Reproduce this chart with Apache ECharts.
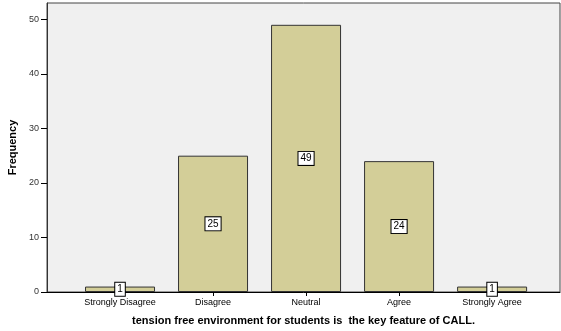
<!DOCTYPE html>
<html>
<head>
<meta charset="utf-8">
<script src="https://cdn.jsdelivr.net/npm/echarts@6/dist/echarts.min.js"></script>
<style>
html,body{margin:0;padding:0;background:#fff;}
#main{width:561px;height:331px;}
</style>
</head>
<body>
<div id="main"></div>
<script>
var categories = ['Strongly Disagree', 'Disagree', 'Neutral', 'Agree', 'Strongly Agree'];
var frequency = [1, 25, 49, 24, 1];
var yTicks = [0, 10, 20, 30, 40, 50];

function buildData(){
	var d = [];
	for(var i = 0 ; i < frequency.length ; i++){
		d.push([i, frequency[i]]);
	}
	return d;
}

var myChart = echarts.init(document.getElementById('main'), null, {renderer: 'canvas'});
var pos = [];
for(var i = 0 ; i < categories.length ; i++){ pos.push(i); }

var option = {
	animation : false,
	textStyle : { fontFamily : 'Liberation Sans, Arial, sans-serif' },
	grid : {
		left : 47,
		top : 3,
		right : 1,
		bottom : 39,
		outerBoundsMode : 'none',
		containLabel : false,
		show : true,
		backgroundColor : '#f0f0f0',
		borderColor : '#444',
		borderWidth : 1
	},
	xAxis : {
		type : 'value',
		min : -0.785,
		max : 4.73,
		name : 'tension free environment for students is  the key feature of CALL.',
		nameLocation : 'middle',
		nameGap : 23,
		nameTextStyle : { fontSize : 11, fontWeight : 'bold', color : '#000' },
		axisLine : { show : true, onZero : false, lineStyle : { color : '#000', width : 1 } },
		axisTick : { show : true, customValues : pos, length : 4, lineStyle : { color : '#000' } },
		axisLabel : {
			customValues : pos,
			fontSize : 9,
			color : '#000',
			margin : 6,
			formatter : function(v){ return categories[Math.round(v)]; }
		},
		splitLine : { show : false }
	},
	yAxis : {
		type : 'value',
		min : 0,
		max : 53,
		name : 'Frequency',
		nameLocation : 'middle',
		nameGap : 23,
		nameTextStyle : { fontSize : 11, fontWeight : 'bold', color : '#000' },
		axisLine : { show : true, onZero : false, lineStyle : { color : '#333', width : 1 } },
		axisTick : { show : true, customValues : yTicks, length : 6, lineStyle : { color : '#000' } },
		axisLabel : { customValues : yTicks, fontSize : 9, color : '#333', margin : 8 },
		splitLine : { show : false }
	},
	series : [ {
		type : 'bar',
		data : buildData(),
		barWidth : 70,
		itemStyle : {
			color : '#d3ce98',
			borderColor : '#333',
			borderWidth : 1
		},
		label : {
			show : true,
			position : 'inside',
			color : '#000',
			fontSize : 10,
			backgroundColor : '#fff',
			borderColor : '#000',
			borderWidth : 1,
			padding : [2, 2, 1, 2]
		}
	} ]
};
myChart.setOption(option);
</script>
</body>
</html>
